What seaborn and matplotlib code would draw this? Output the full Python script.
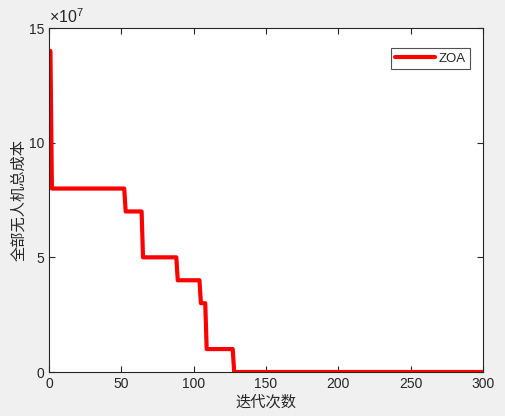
import matplotlib
matplotlib.use("Agg")
import matplotlib.pyplot as plt
import seaborn as sns
import pandas as pd
from matplotlib.ticker import FuncFormatter

# Breakpoints of the convergence curve (iteration, total cost)
iterations = [1, 2, 52, 53, 64, 65, 88, 89, 104, 105, 108, 109, 127, 128, 300]
cost = [14e7, 8e7, 8e7, 7e7, 7e7, 5e7, 5e7, 4e7, 4e7, 3e7, 3e7, 1e7, 1e7, 0, 0]
series_name = "ZOA"
x_ticks = [0, 50, 100, 150, 200, 250, 300]
y_ticks = [0, 5e7, 10e7, 15e7]
x_label = "迭代次数"
y_label = "全部无人机总成本"

sns.set_style("white")
plt.rcParams['font.family'] = ['Liberation Sans', 'DejaVu Sans']
plt.rcParams['mathtext.fontset'] = 'custom'
plt.rcParams['mathtext.rm'] = 'Liberation Sans'
plt.rcParams['mathtext.it'] = 'Liberation Sans'

df = pd.DataFrame({"iter": iterations, "cost": cost, "alg": series_name})

fig = plt.figure(figsize=(5.05, 4.16), dpi=100, facecolor="#f0f0f0")
ax = fig.add_axes([49/505, 44/416, (483-49)/505, (372-28)/416])
ax.set_facecolor("white")

sns.lineplot(data=df, x="iter", y="cost", hue="alg", palette=["#ff0000"],
             sort=False, estimator=None, linewidth=3, ax=ax)

ax.set_xlim(0, 300)
ax.set_ylim(0, 15e7)
ax.set_xticks(x_ticks)
ax.set_yticks(y_ticks)
ax.yaxis.set_major_formatter(FuncFormatter(lambda v, p: f"{v/1e7:g}"))
ax.text(0.0, 1.006, r"$\times10^{7}$", transform=ax.transAxes, fontsize=11.5,
        color="#262626", ha="left", va="bottom")

for s in ax.spines.values():
    s.set_visible(True)
    s.set_color("#262626")
    s.set_linewidth(0.8)
ax.tick_params(direction="in", length=4, width=0.8, colors="#262626",
               labelsize=10, top=True, right=True, bottom=True, left=True,
               labeltop=False, labelright=False)

cjk = ['Noto Sans CJK SC', 'DejaVu Sans']
ax.set_xlabel(x_label, fontsize=11, family=cjk, color="#262626", labelpad=2)
ax.set_ylabel(y_label, fontsize=11, family=cjk, color="#262626", labelpad=1)

leg = ax.legend(loc="upper right", frameon=True, fancybox=False, fontsize=9.5,
                handlelength=3, borderpad=0.3, handletextpad=0.3,
                bbox_to_anchor=(0.985, 0.96))
leg.get_frame().set_edgecolor("#262626")
leg.get_frame().set_linewidth(0.8)
leg.set_title(None)

fig.savefig("out.png", dpi=100, facecolor=fig.get_facecolor())
